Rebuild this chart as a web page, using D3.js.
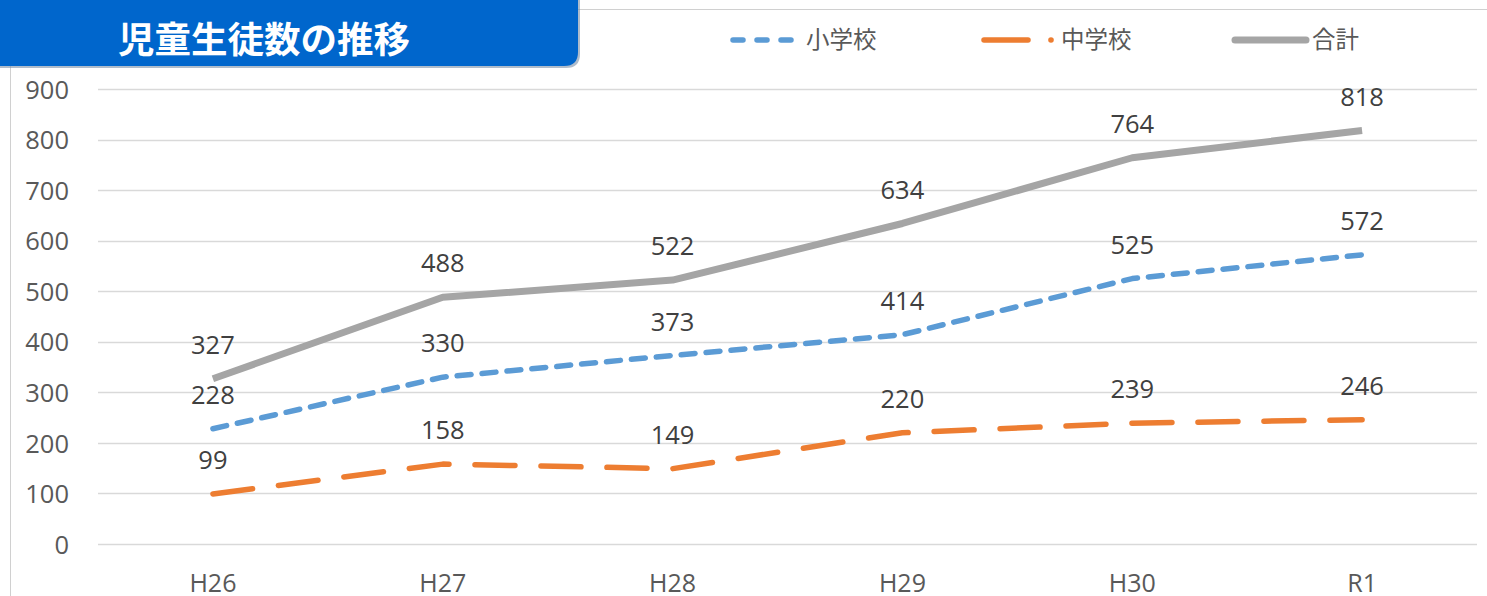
<!DOCTYPE html>
<html><head><meta charset="utf-8">
<script src="https://cdn.jsdelivr.net/npm/d3@7"></script>
<style>
html,body{margin:0;padding:0;background:#fff;overflow:hidden;}
svg{display:block;}
</style></head>
<body>
<svg id="c" width="1487" height="596"></svg>
<script>
const categories = ["H26","H27","H28","H29","H30","R1"];
const elementary = [228,330,373,414,525,572];
const juniorHigh = [99,158,149,220,239,246];
const total = [327,488,522,634,764,818];
const yTicks = [0,100,200,300,400,500,600,700,800,900];
const seriesNames = ["小学校","中学校","合計"];
const titleText = "児童生徒数の推移";

const svg = d3.select("#c");
const font = "'Open Sans','Noto Sans CJK JP',sans-serif";

// chart frame lines
svg.append("line").attr("x1",10.5).attr("x2",10.5).attr("y1",60).attr("y2",596).attr("stroke","#d0d0d0").attr("stroke-width",1);
svg.append("line").attr("x1",560).attr("x2",1487).attr("y1",9.5).attr("y2",9.5).attr("stroke","#d0d0d0").attr("stroke-width",1);

const x = d3.scaleBand().domain(categories).range([98,1477]);
const y = d3.scaleLinear().domain([0,900]).range([544,89]);

// gridlines
svg.append("g").selectAll("line").data(yTicks).join("line")
  .attr("x1",98).attr("x2",1477)
  .attr("y1",d=>Math.round(y(d))+0.5).attr("y2",d=>Math.round(y(d))+0.5)
  .attr("stroke","#d9d9d9").attr("stroke-width",1.5);

// y axis
const yAxis = d3.axisLeft(y).tickValues(yTicks).tickSize(0).tickPadding(0);
const gy = svg.append("g").attr("transform","translate(69,0)").call(yAxis);
gy.select(".domain").remove();
gy.selectAll("text").attr("font-family",font).attr("font-size",25.5).attr("fill","#595959").attr("dy","0.36em");

// x axis
const xAxis = d3.axisBottom(x).tickSize(0).tickPadding(0);
const gx = svg.append("g").attr("transform","translate(0,583)").call(xAxis);
gx.select(".domain").remove();
gx.selectAll("text").attr("font-family",font).attr("font-size",25).attr("fill","#595959").attr("dy","0.36em");

const cx = d => x(d) + x.bandwidth()/2;
const line = d3.line().x((d,i)=>cx(categories[i])).y(d=>y(d));

const series = [
  {name:seriesNames[0], values:elementary, color:"#5b9bd5", width:5.5, dash:"14,11"},
  {name:seriesNames[1], values:juniorHigh, color:"#ed7d31", width:5.5, dash:"40,26"},
  {name:seriesNames[2], values:total, color:"#a5a5a5", width:7, dash:null}
];

series.forEach(s=>{
  svg.append("path").datum(s.values).attr("d",line)
    .attr("fill","none").attr("stroke",s.color).attr("stroke-width",s.width)
    .attr("stroke-linecap",s.dash?"round":"butt").attr("stroke-linejoin","round")
    .attr("stroke-dasharray",s.dash);
});

// data labels
series.forEach(s=>{
  svg.append("g").selectAll("text").data(s.values).join("text")
    .attr("x",(d,i)=>cx(categories[i]))
    .attr("y",d=>y(d)-34)
    .attr("dy","0.36em")
    .attr("text-anchor","middle")
    .attr("font-family",font).attr("font-size",25.5).attr("fill","#404040")
    .text(d=>d);
});

// legend
const lg = svg.append("g");
const legendItems = [
  {s:series[0], x1:733, x2:793, tx:806},
  {s:series[1], x1:984, x2:1028, tx:1061, dot:1051},
  {s:series[2], x1:1235, x2:1306, tx:1312}
];
legendItems.forEach(it=>{
  lg.append("line").attr("x1",it.x1).attr("x2",it.x2).attr("y1",40).attr("y2",40)
    .attr("stroke",it.s.color).attr("stroke-width",it.s.width)
    .attr("stroke-linecap","round")
    .attr("stroke-dasharray",it.s===series[0]?"10,14":null);
  if(it.dot) lg.append("circle").attr("cx",it.dot).attr("cy",40).attr("r",2.8).attr("fill",it.s.color);
  lg.append("text").attr("x",it.tx).attr("y",40).attr("dy","0.36em")
    .attr("font-family",font).attr("font-size",23.5).attr("fill","#595959").text(it.s.name);
});

// title box
const tb = svg.append("g");
tb.append("path")
  .attr("d","M0,-20 H580 V54 Q580,68 566,68 H0 Z")
  .attr("fill","#7a8fa8").attr("opacity",0.6);
tb.append("path")
  .attr("d","M0,-20 H578 V52 Q578,66 564,66 H0 Z")
  .attr("fill","#0066cc");
tb.append("text").attr("x",264).attr("y",40).attr("dy","0.36em").attr("text-anchor","middle")
  .attr("font-family","'Noto Sans CJK JP',sans-serif").attr("font-weight","bold")
  .attr("font-size",36.5).attr("fill","#ffffff").text(titleText);
</script>
</body></html>
